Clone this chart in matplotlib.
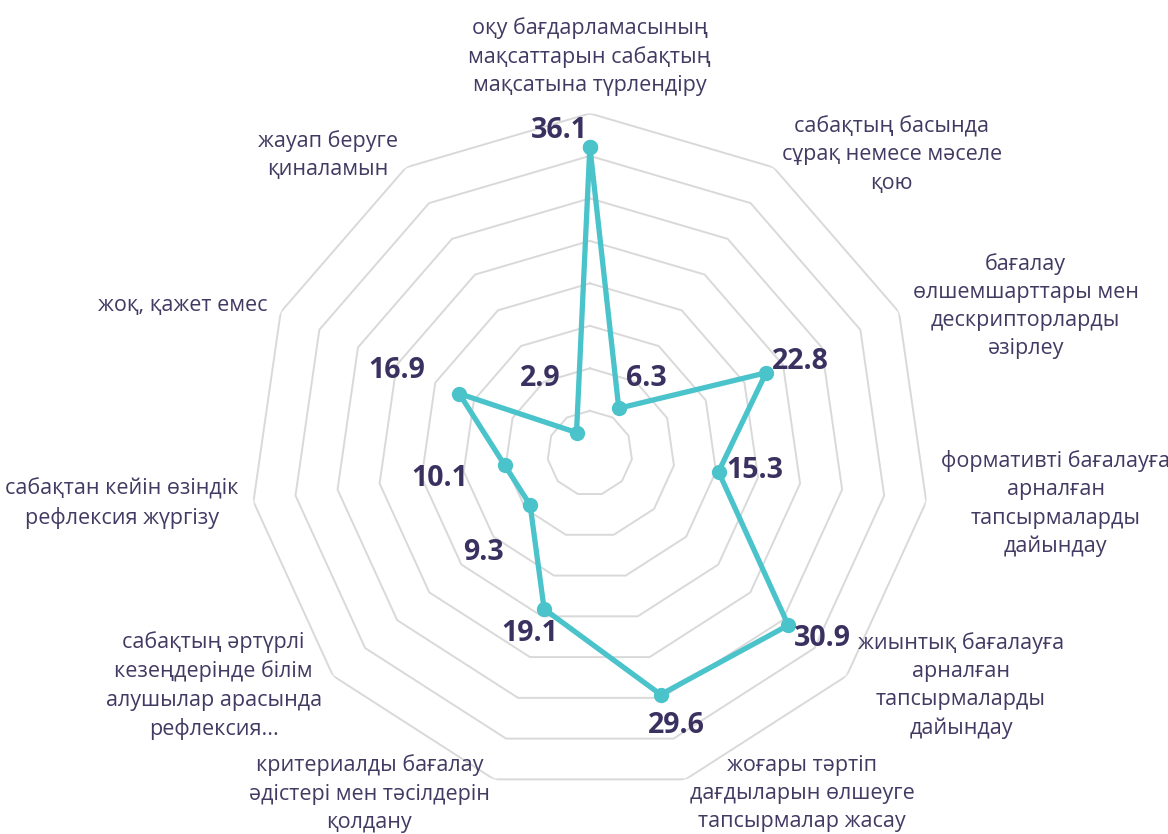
import numpy as np
import matplotlib
matplotlib.use('Agg')
import matplotlib.pyplot as plt

plt.rcParams['font.family'] = ['Open Sans', 'Noto Sans', 'DejaVu Sans']

categories = [
    'оқу бағдарламасының\nмақсаттарын сабақтың\nмақсатына түрлендіру',
    'сабақтың басында\nсұрақ немесе мәселе\nқою',
    'бағалау\nөлшемшарттары мен\nдескрипторларды\nәзірлеу',
    'формативті бағалауға\nарналған\nтапсырмаларды\nдайындау',
    'жиынтық бағалауға\nарналған\nтапсырмаларды\nдайындау',
    'жоғары тәртіп\nдағдыларын өлшеуге\nтапсырмалар жасау',
    'критериалды бағалау\nәдістері мен тәсілдерін\nқолдану',
    'сабақтың әртүрлі\nкезеңдерінде білім\nалушылар арасында\nрефлексия...',
    'сабақтан кейін өзіндік\nрефлексия жүргізу',
    'жоқ, қажет емес',
    'жауап беруге\nқиналамын',
]
values = [36.1, 6.3, 22.8, 15.3, 30.9, 29.6, 19.1, 9.3, 10.1, 16.9, 2.9]
rings = [5, 10, 15, 20, 25, 30, 35, 40]

# value label offsets in pixels (dx, dy up)
label_offsets = [(-30, 16), (28, 30), (34, 11), (36, 1), (34, -13), (16, -31),
                 (-14, -25), (-47, -47), (-65, -13), (-62, 23), (-36, 54)]

line_color = '#4AC3CB'
text_color = '#433A63'
value_color = '#3A3160'
grid_color = '#D9D9D9'

n = len(categories)
angles = np.arange(n) * 2 * np.pi / n

fig = plt.figure(figsize=(11.68, 8.34), dpi=100)
ax = fig.add_axes([0.214, 0.049, 0.582, 0.815], projection='polar')
ax.set_theta_offset(np.pi / 2)
ax.set_theta_direction(-1)
ax.set_ylim(0, 40)
ax.grid(False)
ax.spines['polar'].set_visible(False)
ax.set_xticks([])
ax.set_yticks([])

closed = np.append(angles, angles[0])
for r in rings:
    ax.plot(closed, [r] * (n + 1), color=grid_color, lw=1.4, zorder=1)

ax.plot(closed, values + values[:1], color=line_color, lw=3.8, zorder=3,
        marker='o', markersize=10, clip_on=False)

for a, v, (dx, dy) in zip(angles, values, label_offsets):
    ax.annotate(f'{v:.1f}', xy=(a, v), xytext=(dx, dy), textcoords='offset pixels',
                ha='center', va='center', fontsize=20.5, fontweight='bold',
                color=value_color, zorder=4, annotation_clip=False)

for a, lab in zip(angles, categories):
    s, c = np.sin(a), np.cos(a)
    if abs(s) < 1e-6:
        ax.annotate(lab, xy=(a, 40), xytext=(0, 17), textcoords='offset pixels',
                    ha='center', va='bottom', multialignment='center',
                    fontsize=15.5, color=text_color, linespacing=1.45,
                    annotation_clip=False)
    else:
        ha = 'left' if s > 0 else 'right'
        ax.annotate(lab, xy=(a, 40), xytext=(15 * s, 15 * c), textcoords='offset pixels',
                    ha=ha, va='center', multialignment='center',
                    fontsize=15.5, color=text_color, linespacing=1.45,
                    annotation_clip=False)

fig.savefig('out.png', dpi=100)
